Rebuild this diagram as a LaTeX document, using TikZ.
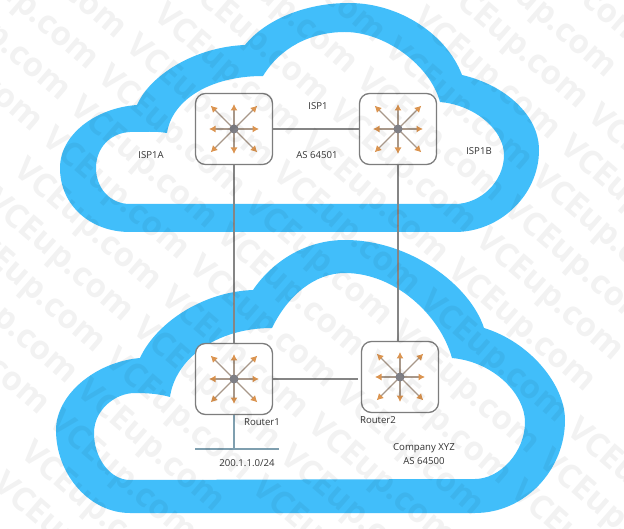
\documentclass[tikz,border=0pt]{standalone}
\usepackage{fontspec}
\setmainfont{Open Sans}
\usetikzlibrary{arrows.meta}
\definecolor{cloudblue}{HTML}{41BEFA}
\definecolor{boxgray}{HTML}{7D7D7D}
\definecolor{linkgray}{HTML}{858585}
\definecolor{arrorange}{HTML}{DB9450}
\definecolor{shaftgray}{HTML}{A8988A}
\definecolor{hubgray}{HTML}{7F7F85}
\definecolor{busblue}{HTML}{7F9FAF}
\tikzset{
  x=1pt,y=-1pt,
  cloudfill/.style={fill=cloudblue,even odd rule},
  routerbox/.style={draw=boxgray,line width=1.3pt,fill=white,rounded corners=10pt,minimum width=77pt,minimum height=71pt,inner sep=0pt},
  link/.style={draw=linkgray,line width=1.1pt},
  lbl/.style={font=\fontsize{9.6}{12}\selectfont,text=black!80,inner sep=0pt,align=center},
  wm/.style={font=\fontsize{33}{33}\selectfont\bfseries,text=black,opacity=0.05,rotate=-41,inner sep=0pt},
  ray/.style={draw=shaftgray,line width=1.1pt,-{Latex[length=6.5pt,width=7pt,color=arrorange]}},
  hub/.pic={
    \foreach \a in {0,90,180,270} \draw[ray] (0,0) -- (\a:25);
    \foreach \a in {45,135,225,315} \draw[ray] (0,0) -- (\a:33);
    \fill[hubgray] (0,0) circle (4.5);
  }
}
\begin{document}
\begin{tikzpicture}
\useasboundingbox (0,0) rectangle (624,529);
\fill[white] (0,0) rectangle (624,529);
% top cloud: outer then inner outline
\fill[cloudfill]
  (130,232) .. controls (90,232) and (60,205) .. (60,168)
  .. controls (60,135) and (95,108) .. (137,105)
  .. controls (150,75) and (195,47) .. (245,45)
  .. controls (265,20) and (305,3) .. (349,3)
  .. controls (400,3) and (447,35) .. (462,75)
  .. controls (505,85) and (539,115) .. (539,150)
  .. controls (539,195) and (500,232) .. (455,232) -- cycle
  (130,204) .. controls (110,204) and (96,188) .. (96,168)
  .. controls (96,148) and (110,133) .. (130,132)
  .. controls (145,132) and (155,131) .. (167,133)
  .. controls (172,100) and (210,76) .. (263,76)
  .. controls (280,48) and (310,32) .. (345,32)
  .. controls (385,32) and (430,65) .. (440,102)
  .. controls (475,105) and (504,130) .. (504,155)
  .. controls (504,182) and (480,204) .. (455,204) -- cycle;
% bottom cloud: outer then inner outline
\fill[cloudfill]
  (130,513) .. controls (90,513) and (56,475) .. (56,430)
  .. controls (56,395) and (95,362) .. (140,358)
  .. controls (155,325) and (200,292) .. (253,290)
  .. controls (272,262) and (305,240) .. (345,240)
  .. controls (410,240) and (470,285) .. (484,328)
  .. controls (530,342) and (565,385) .. (565,420)
  .. controls (565,470) and (525,513) .. (475,513) -- cycle
  (130,480) .. controls (110,480) and (94,458) .. (94,433)
  .. controls (94,410) and (115,393) .. (135,393)
  .. controls (148,393) and (160,394) .. (170,397)
  .. controls (175,360) and (215,328) .. (272,328)
  .. controls (288,295) and (315,273) .. (345,273)
  .. controls (395,273) and (440,315) .. (452,358)
  .. controls (495,362) and (525,395) .. (525,422)
  .. controls (525,452) and (500,479) .. (475,479) -- cycle;
% routers
\node[routerbox] (r1) at (234,129) {};
\node[routerbox] (r2) at (398,129) {};
\node[routerbox] (r3) at (234,379) {};
\node[routerbox] (r4) at (400,377) {};
\foreach \n in {r1,r2,r3,r4} \pic at (\n.center) {hub};
% links
\draw[link] (r1) -- (r2);
\draw[link] (r1) -- (r3);
\draw[link] (r2.south) -- (r2.south |- r4.north);
\draw[link,shorten >=3pt] (r3.east) -- (r3.east -| r4.west);
\coordinate (busl) at (195,449);
\coordinate (busr) at (279,449);
\draw[draw=busblue,line width=1.3pt] (busl) -- (busr);
\draw[draw=busblue,line width=1.3pt] (r3.south) -- (r3.south |- busl);
% labels
\node[lbl] (t1) at (318,106) {ISP1};
\node[lbl] (t2) at (317,155) {AS 64501};
\node[lbl] (t3) at (151,155) {ISP1A};
\node[lbl] (t4) at (479,151) {ISP1B};
\node[lbl] (t5) at (262,422) {Router1};
\node[lbl] (t6) at (378,420) {Router2};
\node[lbl] (t7) at (247,463) {200.1.1.0/24};
\node[lbl] (t8) at (424,448) {Company XYZ};
\node[lbl] (t9) at (424,461) {AS 64500};
% watermark
\foreach \i in {-4,...,4} {
  \foreach \j in {-12,...,12} {
    \pgfmathsetmacro{\cx}{227+147*\i-28*\j}
    \pgfmathsetmacro{\cy}{71+128*\i+31*\j}
    \pgfmathparse{(\cx>-40 && \cx<664 && \cy>-30 && \cy<559) ? 1 : 0}
    \ifnum\pgfmathresult=1
      \node[wm] (wm\i x\j) at (\cx,\cy) {VCEup.com};
    \fi
  }
}
\end{tikzpicture}
\end{document}
